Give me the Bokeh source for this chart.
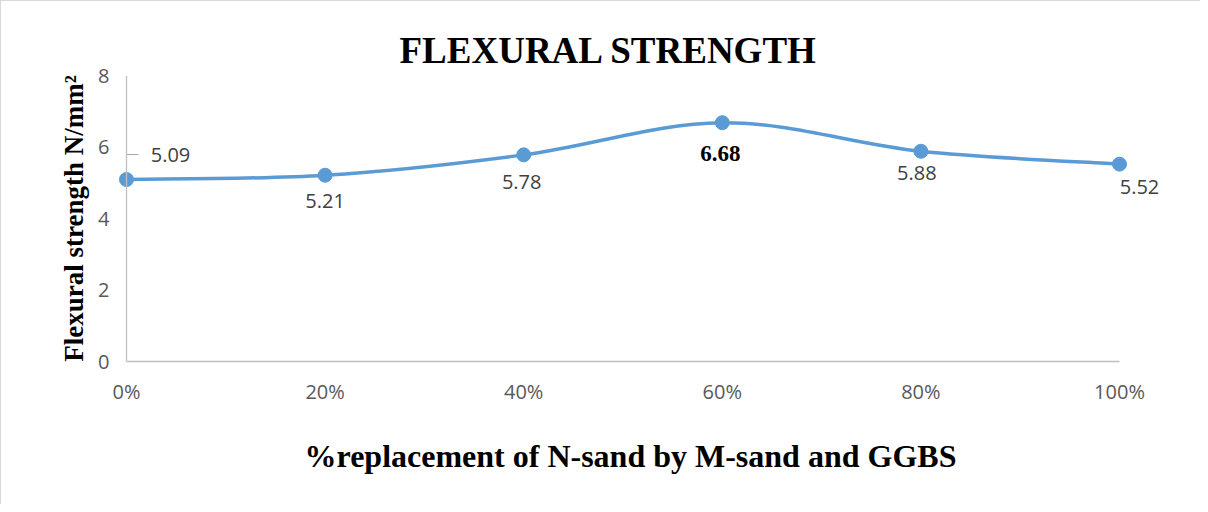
from bokeh.plotting import figure
from bokeh.models import Range1d, FixedTicker, Title, ColumnDataSource, Span
from bokeh.embed import file_html
from bokeh.resources import INLINE
from bokeh.core.properties import value

# ---- data ----
categories = ["0%", "20%", "40%", "60%", "80%", "100%"]
strength = [5.09, 5.21, 5.78, 6.68, 5.88, 5.52]
y_ticks = [0, 2, 4, 6, 8]
label_text = ["5.09", "5.21", "5.78", "6.68", "5.88", "5.52"]

# ---- styling (pixel offsets of the data labels) ----
label_dx = [44, 0, -2, -2, -4, 20]
label_dy = [-25, 26, 27, 31, 22, 23]

BLUE = "#5B9BD5"
GRAY_TXT = "#595959"
AXIS_GRAY = "#BFBFBF"

W, H = 1200, 504
PAD_L, PAD_R = 10, 48  # px of free room so end markers / labels are not clipped
ML, MR, MT, MB = 125 - PAD_L, 82 - PAD_R, 74, 144
frame_w = W - ML - MR
frame_h = H - MT - MB

xs = list(range(len(categories)))
n = len(xs)
unit = (frame_w - PAD_L - PAD_R) / (n - 1)

p = figure(width=W, height=H,
           x_range=Range1d(xs[0] - PAD_L / unit, xs[-1] + PAD_R / unit),
           y_range=Range1d(0, 8),
           output_backend="svg", toolbar_location=None,
           min_border_left=ML, min_border_right=MR, min_border_top=MT, min_border_bottom=MB)
p.styles = {"border-left": "1px solid #D9D9D9", "border-top": "1px solid #D9D9D9"}
p.outline_line_color = None
p.grid.grid_line_color = None
p.background_fill_color = "white"
p.border_fill_color = "white"

# title
p.title = Title(text="FLEXURAL STRENGTH", align="left", offset=273 + PAD_L,
                text_font="Liberation Serif", text_font_size="37px",
                text_font_style="bold", text_color="black")

# axes
p.xaxis.ticker = FixedTicker(ticks=xs)
p.xaxis.major_label_overrides = {i: c for i, c in enumerate(categories)}
p.xaxis.bounds = (xs[0], xs[-1])
p.yaxis.ticker = FixedTicker(ticks=y_ticks)
for ax in (p.xaxis, p.yaxis):
    ax.axis_line_color = AXIS_GRAY
    ax.axis_line_width = 1.3
    ax.major_tick_line_color = None
    ax.minor_tick_line_color = None
    ax.major_label_text_font = "Open Sans"
    ax.major_label_text_font_size = "20px"
    ax.major_label_text_color = GRAY_TXT
p.yaxis.axis_line_color = None
p.add_layout(Span(location=xs[0], dimension="height", line_color=AXIS_GRAY, line_width=1.3))
p.xaxis.major_label_standoff = 10
p.yaxis.major_label_standoff = 1

p.yaxis.axis_label = "Flexural strength N/mm²"
p.yaxis.axis_label_text_font = "Liberation Serif"
p.yaxis.axis_label_text_font_style = "bold"
p.yaxis.axis_label_text_font_size = "27px"
p.yaxis.axis_label_text_color = "black"
p.yaxis.axis_label_standoff = 6

p.add_layout(Title(text="%replacement of N-sand by M-sand and GGBS", align="left", offset=178 + PAD_L,
                   text_font="Liberation Serif", text_font_size="32px",
                   text_font_style="bold", text_color="black", standoff=56), "below")

# smoothed line (Catmull-Rom -> cubic Bezier, as in spreadsheet "smoothed line")
bx0, by0, bx1, by1, cx0, cy0, cx1, cy1 = [], [], [], [], [], [], [], []
for i in range(n - 1):
    i0 = max(i - 1, 0)
    i3 = min(i + 2, n - 1)
    bx0.append(xs[i]); by0.append(strength[i])
    bx1.append(xs[i + 1]); by1.append(strength[i + 1])
    cx0.append(xs[i] + (xs[i + 1] - xs[i0]) / 6)
    cy0.append(strength[i] + (strength[i + 1] - strength[i0]) / 6)
    cx1.append(xs[i + 1] - (xs[i3] - xs[i]) / 6)
    cy1.append(strength[i + 1] - (strength[i3] - strength[i]) / 6)
p.bezier(x0=bx0, y0=by0, x1=bx1, y1=by1, cx0=cx0, cy0=cy0, cx1=cx1, cy1=cy1,
         line_color=BLUE, line_width=3.5)
p.scatter(xs, strength, size=14, marker="circle", fill_color=BLUE, line_color=BLUE)

# leader line for first label
px_y = frame_h / 8
lead_y = strength[0] - label_dy[0] / px_y
p.line([xs[0], xs[0], xs[0] + 12 / unit], [strength[0], lead_y, lead_y],
       line_color="#A6A6A6", line_width=1)

# data labels
imax = strength.index(max(strength))
reg = [i for i in range(n) if i != imax]
src = ColumnDataSource(dict(x=[xs[i] for i in reg], y=[strength[i] for i in reg],
                            t=[label_text[i] for i in reg],
                            dx=[label_dx[i] for i in reg], dy=[label_dy[i] for i in reg]))
p.text(x="x", y="y", text="t", x_offset="dx", y_offset="dy", source=src,
       text_font=value("Open Sans"), text_font_size="20px", text_color="#404040",
       text_align="center", text_baseline="middle")
p.text(x=[xs[imax]], y=[strength[imax]], text=[label_text[imax]],
       x_offset=label_dx[imax], y_offset=label_dy[imax],
       text_font=value("Liberation Serif"), text_font_size="23px", text_font_style="bold",
       text_color="black", text_align="center", text_baseline="middle")

open("out.html", "w").write(file_html(p, INLINE))
